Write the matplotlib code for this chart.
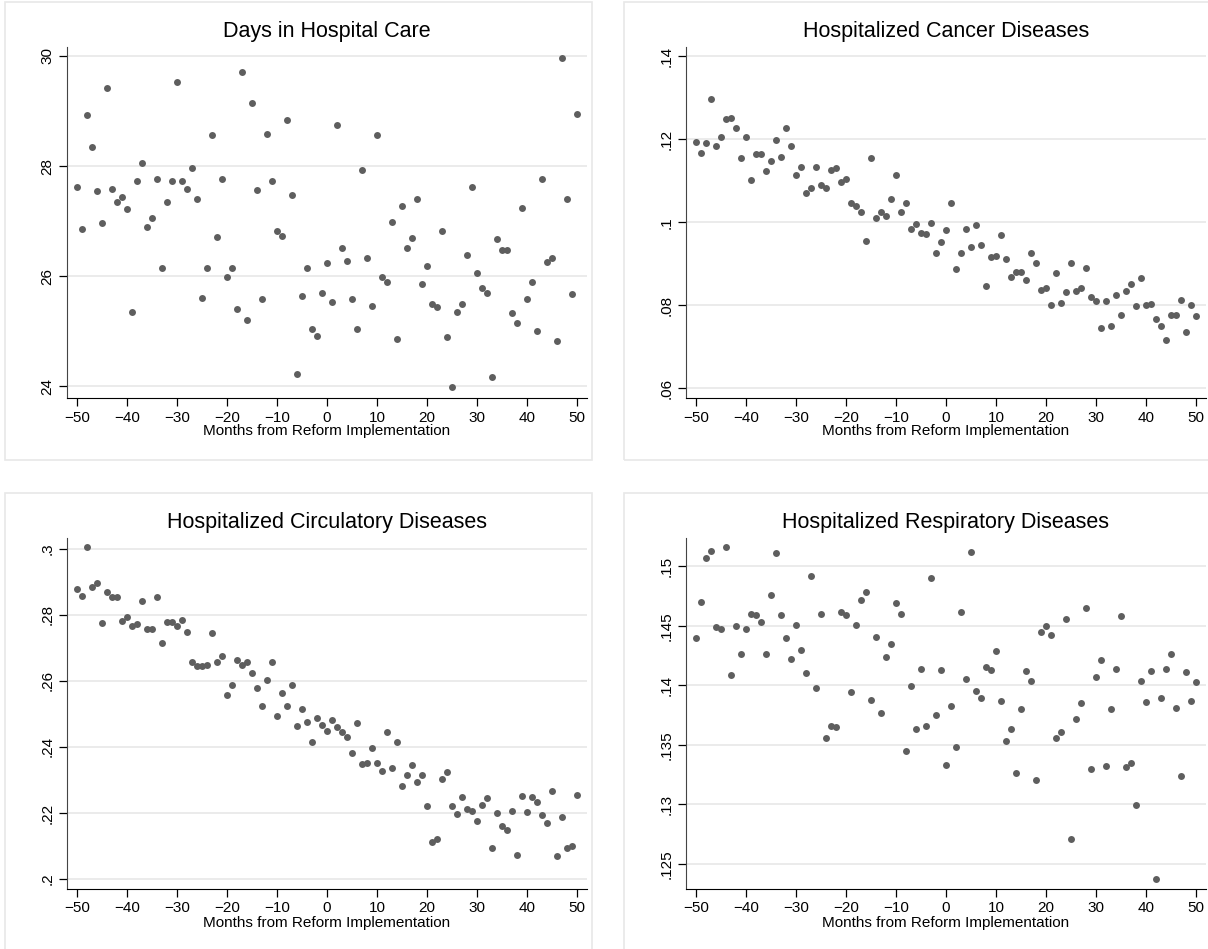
import numpy as np
import matplotlib
matplotlib.use("Agg")
import matplotlib.pyplot as plt
from matplotlib.patches import Rectangle
from matplotlib.ticker import FuncFormatter

plt.rcParams['font.family'] = ['Liberation Sans', 'DejaVu Sans']

months = np.arange(-50, 51)

days_in_care = [
    27.62, 26.86, 28.92, 28.34, 27.55, 26.97, 29.41, 27.58, 27.34, 27.44,
    27.22, 25.35, 27.72, 28.06, 26.89, 27.06, 27.77, 26.15, 27.34, 27.73,
    29.53, 27.73, 27.58, 27.96, 27.40, 25.60, 26.15, 28.56, 26.72, 27.76,
    25.98, 26.15, 25.40, 29.71, 25.21, 29.14, 27.56, 25.58, 28.59, 27.73,
    26.82, 26.73, 28.83, 27.47, 24.22, 25.65, 26.15, 25.05, 24.91, 25.69,
    26.24, 25.54, 28.74, 26.51, 26.27, 25.58, 25.05, 27.93, 26.33, 25.46,
    28.57, 25.99, 25.90, 26.98, 24.86, 27.27, 26.51, 26.69, 27.41, 25.85,
    26.18, 25.50, 25.44, 26.82, 24.90, 23.99, 25.35, 25.49, 26.38, 27.62,
    26.06, 25.78, 25.69, 24.17, 26.68, 26.48, 26.48, 25.34, 25.16, 27.24,
    25.58, 25.89, 25.01, 27.76, 26.26, 26.33, 24.82, 29.96, 27.41, 25.67,
    28.95,
]

cancer = [
    .1194, .1166, .1190, .1296, .1184, .1206, .1248, .1251, .1228, .1155,
    .1206, .1102, .1164, .1164, .1124, .1147, .1199, .1158, .1228, .1184,
    .1114, .1133, .1071, .1083, .1133, .1089, .1083, .1125, .1131, .1096,
    .1104, .1046, .1040, .1025, .0955, .1155, .1010, .1024, .1015, .1057,
    .1113, .1024, .1047, .0985, .0997, .0975, .0972, .0999, .0927, .0952,
    .0982, .1047, .0888, .0925, .0985, .0941, .0994, .0946, .0847, .0917,
    .0920, .0969, .0912, .0869, .0881, .0881, .0860, .0927, .0901, .0837,
    .0843, .0800, .0879, .0806, .0831, .0901, .0835, .0842, .0889, .0819,
    .0811, .0745, .0811, .0751, .0826, .0778, .0834, .0851, .0799, .0865,
    .0800, .0803, .0766, .0751, .0717, .0778, .0777, .0813, .0736, .0802,
    .0774,
]

circulatory = [
    .2877, .2857, .3005, .2885, .2896, .2775, .2870, .2854, .2854, .2782,
    .2793, .2767, .2773, .2842, .2757, .2756, .2853, .2715, .2777, .2778,
    .2766, .2784, .2748, .2658, .2645, .2645, .2649, .2746, .2658, .2675,
    .2558, .2586, .2662, .2648, .2658, .2625, .2579, .2524, .2601, .2658,
    .2493, .2562, .2524, .2588, .2464, .2516, .2475, .2415, .2487, .2466,
    .2449, .2482, .2460, .2445, .2431, .2382, .2471, .2349, .2352, .2398,
    .2350, .2327, .2446, .2335, .2415, .2281, .2314, .2344, .2293, .2314,
    .2220, .2112, .2121, .2304, .2324, .2220, .2197, .2247, .2212, .2207,
    .2175, .2224, .2245, .2093, .2201, .2160, .2148, .2206, .2073, .2251,
    .2202, .2247, .2232, .2193, .2170, .2265, .2070, .2189, .2095, .2101,
    .2255,
]

respiratory = [
    .1440, .1470, .1507, .1513, .1449, .1447, .1516, .1409, .1450, .1426,
    .1447, .1460, .1459, .1453, .1426, .1476, .1511, .1459, .1440, .1422,
    .1451, .1430, .1410, .1492, .1398, .1460, .1356, .1366, .1365, .1462,
    .1459, .1394, .1451, .1472, .1478, .1388, .1441, .1377, .1424, .1435,
    .1469, .1460, .1345, .1399, .1363, .1414, .1366, .1490, .1375, .1413,
    .1333, .1383, .1348, .1462, .1405, .1512, .1395, .1389, .1415, .1413,
    .1429, .1387, .1353, .1363, .1326, .1380, .1412, .1404, .1320, .1445,
    .1450, .1442, .1356, .1361, .1456, .1271, .1372, .1385, .1465, .1330,
    .1407, .1421, .1332, .1380, .1414, .1458, .1331, .1335, .1299, .1404,
    .1386, .1412, .1237, .1389, .1414, .1426, .1381, .1324, .1411, .1387,
    .1403,
]

x_ticks = [-50, -40, -30, -20, -10, 0, 10, 20, 30, 40, 50]
days_ticks = [24, 26, 28, 30]
cancer_ticks = [.06, .08, .10, .12, .14]
circulatory_ticks = [.20, .22, .24, .26, .28, .30]
respiratory_ticks = [.125, .130, .135, .140, .145, .150]

W, H = 1208, 949
fig = plt.figure(figsize=(W / 100, H / 100), dpi=100)


def _fmt(v, pos):
    # stata style: drop the leading zero, keep integers plain
    if abs(v - round(v)) < 1e-9 and abs(v) >= 1:
        return str(int(round(v)))
    s = f"{v:.3f}".rstrip('0').rstrip('.')
    return s[1:] if s.startswith('0') else s


def _box(l, t, r, b):
    fig.patches.append(Rectangle((l / W, 1 - b / H), (r - l) / W, (b - t) / H,
                                 transform=fig.transFigure, fill=False,
                                 edgecolor='#e8e8e8', linewidth=1.2))


def _panel(l, t, r, b, title, values, yticks, ylim):
    ax = fig.add_axes([l / W, 1 - b / H, (r - l) / W, (b - t) / H])
    ax.scatter(months, values, s=25, color='#5e5e5e', linewidths=0, zorder=3)
    ax.set_xlim(-52, 52)
    ax.set_ylim(*ylim)
    ax.set_xticks(x_ticks)
    ax.set_yticks(yticks)
    ax.yaxis.set_major_formatter(FuncFormatter(_fmt))
    ax.grid(axis='y', color='#e6e6e6', linewidth=1.1)
    ax.set_axisbelow(True)
    for side in ('top', 'right'):
        ax.spines[side].set_visible(False)
    ax.spines['left'].set_color('#444444')
    ax.spines['bottom'].set_color('black')
    ax.tick_params(axis='both', labelsize=11, length=6, width=0.9, pad=3)
    for lbl in ax.get_yticklabels():
        lbl.set_rotation(90)
        lbl.set_va('center')
    ax.set_xlabel("Months from Reform Implementation", fontsize=11, labelpad=0)
    ax.set_title(title, fontsize=15.5, pad=7)
    return ax


_box(5, 2, 592, 460)
_box(624, 2, 1215, 460)
_box(5, 493, 592, 960)
_box(624, 493, 1215, 960)

_panel(67, 47, 587, 398, "Days in Hospital Care", days_in_care,
       days_ticks, (23.79, 30.16))
_panel(686, 47, 1206, 398, "Hospitalized Cancer Diseases", cancer,
       cancer_ticks, (0.0577, 0.1422))
_panel(67, 538, 587, 889, "Hospitalized Circulatory Diseases", circulatory,
       circulatory_ticks, (0.197, 0.3032))
_panel(686, 538, 1206, 889, "Hospitalized Respiratory Diseases", respiratory,
       respiratory_ticks, (0.12288, 0.15238))

fig.savefig("out.png", dpi=100)
